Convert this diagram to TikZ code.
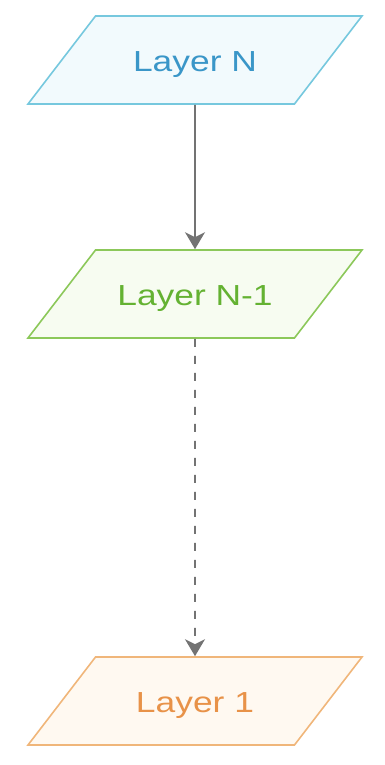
\documentclass[tikz,border=0pt]{standalone}
\usepackage{fontspec}
\setmainfont{Liberation Sans}[FakeStretch=1.22]
\usetikzlibrary{shapes.geometric,arrows.meta}

\definecolor{cyanline}{RGB}{118,200,222}
\definecolor{cyantext}{RGB}{58,150,200}
\definecolor{cyanfill}{RGB}{242,250,253}
\definecolor{greenline}{RGB}{140,200,90}
\definecolor{greentext}{RGB}{100,178,50}
\definecolor{greenfill}{RGB}{247,252,241}
\definecolor{orangeline}{RGB}{240,182,122}
\definecolor{orangetext}{RGB}{232,146,72}
\definecolor{orangefill}{RGB}{255,249,241}
\definecolor{flowgray}{RGB}{115,115,115}

% the slant comes from the body height, so fix it through the text box and inner ysep
\tikzstyle{layer_node} = [trapezium, trapezium left angle=52.5, trapezium right angle=127.5, trapezium stretches body, minimum width=334pt, text height=25pt, text depth=2pt, inner xsep=0pt, inner ysep=30.5pt, line width=1.6pt, font=\fontsize{29}{31}\selectfont]
\tikzstyle{layer_top} = [layer_node, draw=cyanline, fill=cyanfill, text=cyantext]
\tikzstyle{layer_mid} = [layer_node, draw=greenline, fill=greenfill, text=greentext]
\tikzstyle{layer_low} = [layer_node, draw=orangeline, fill=orangefill, text=orangetext]
\tikzstyle{arrow} = [line width=1.8pt, draw=flowgray, -{Stealth[length=17pt, width=20pt, inset=5pt]}]

\begin{document}
\begin{tikzpicture}[x=1pt, y=1pt]
    \useasboundingbox (0,0) rectangle (385,-765);

    \node (layerN)  [layer_top] at (195,-60) {Layer N};
    \node (layerN1) [layer_mid, node distance=234pt, below of=layerN] {Layer N-1};
    \node (layer1)  [layer_low, node distance=407pt, below of=layerN1] {Layer 1};

    \draw [arrow] (layerN) -- (layerN1);
    \draw [arrow, dash pattern=on 8pt off 9pt] (layerN1) -- (layer1);
\end{tikzpicture}
\end{document}
